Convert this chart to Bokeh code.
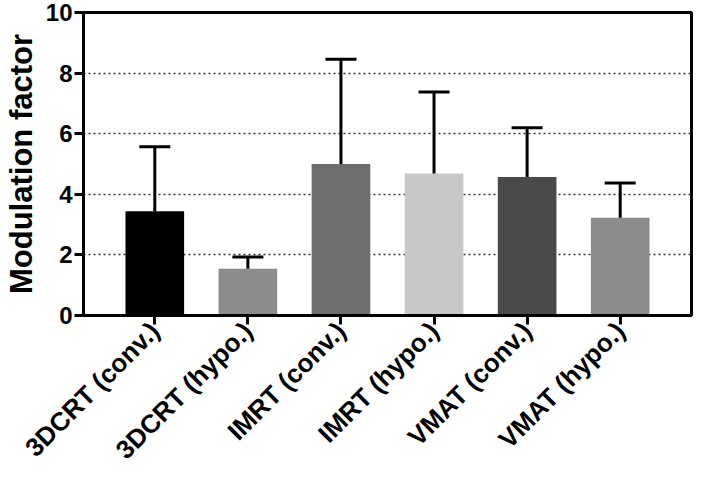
from bokeh.plotting import figure
from bokeh.models import ColumnDataSource, FactorRange, Range1d, Whisker, TeeHead, FixedTicker
from bokeh.embed import file_html
from bokeh.resources import INLINE

categories = ["3DCRT (conv.)", "3DCRT (hypo.)", "IMRT (conv.)", "IMRT (hypo.)", "VMAT (conv.)", "VMAT (hypo.)"]
means = [3.44, 1.54, 5.00, 4.69, 4.57, 3.23]
sds = [2.13, 0.39, 3.46, 2.69, 1.63, 1.14]
colors = ["#000000", "#8c8c8c", "#6e6e6e", "#c8c8c8", "#4a4a4a", "#8c8c8c"]
y_ticks = [0, 2, 4, 6, 8, 10]

upper = [m + s for m, s in zip(means, sds)]
src = ColumnDataSource(dict(cat=categories, mean=means, upper=upper, color=colors))

FONT = "Liberation Sans"

p = figure(
    width=693, height=478,
    x_range=FactorRange(*categories, range_padding=0.266, range_padding_units="absolute"),
    y_range=Range1d(0, 10),
    output_backend="svg", toolbar_location=None,
    min_border_left=70, min_border_right=2, min_border_top=12, min_border_bottom=150,
)

p.vbar(x="cat", top="mean", width=0.63, fill_color="color", line_color=None, source=src)

w = Whisker(base="cat", lower="mean", upper="upper", source=src,
            line_color="black", line_width=3,
            upper_head=TeeHead(size=31, line_color="black", line_width=3),
            lower_head=None, level="annotation")
p.add_layout(w)

p.outline_line_color = "black"
p.outline_line_width = 3
p.outline_line_alpha = 1.0

p.xgrid.grid_line_color = None
p.ygrid.grid_line_color = "#333333"
p.ygrid.grid_line_width = 1.5
p.ygrid.grid_line_dash = "2 3"
p.ygrid.ticker = FixedTicker(ticks=[2, 4, 6, 8])

p.yaxis.ticker = FixedTicker(ticks=y_ticks)
p.yaxis.axis_label = "Modulation factor"
p.yaxis.axis_label_text_font = FONT
p.yaxis.axis_label_text_font_style = "bold"
p.yaxis.axis_label_text_font_size = "31px"
p.yaxis.axis_label_text_color = "black"
p.yaxis.axis_label_standoff = 4
p.yaxis.major_label_text_font = FONT
p.yaxis.major_label_text_font_style = "bold"
p.yaxis.major_label_text_font_size = "24px"
p.yaxis.major_label_text_color = "black"
p.yaxis.major_label_standoff = 2
p.yaxis.minor_tick_line_color = None

p.xaxis.major_label_orientation = 0.785398
p.xaxis.major_label_text_font = FONT
p.xaxis.major_label_text_font_style = "bold"
p.xaxis.major_label_text_font_size = "26px"
p.xaxis.major_label_text_color = "black"
p.xaxis.major_label_standoff = 2

for ax in (p.xaxis, p.yaxis):
    ax.axis_line_color = "black"
    ax.axis_line_width = 3
    ax.major_tick_line_color = "black"
    ax.major_tick_line_width = 3
    ax.major_tick_out = 9
    ax.major_tick_in = 0

open("out.html", "w").write(file_html(p, INLINE))
